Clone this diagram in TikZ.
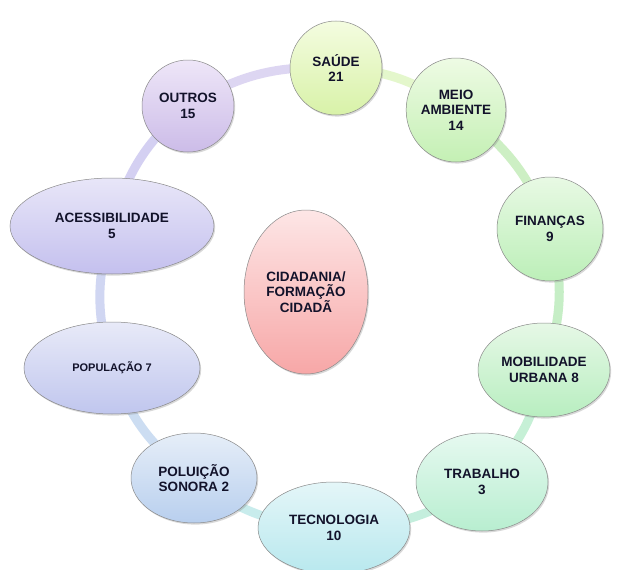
\documentclass[tikz,border=0pt]{standalone}
\usepackage{fontspec}
\setmainfont{Liberation Sans}
\usetikzlibrary{shapes.geometric,shadows}
\pgfdeclarelayer{bgpaper}
\pgfdeclarelayer{background}
\pgfsetlayers{bgpaper,background,main}
\definecolor{txt}{HTML}{12122A}
\definecolor{edgegray}{HTML}{8A8A8A}
\tikzset{
  bub/.style={ellipse, draw=edgegray, line width=0.5pt, inner sep=0pt, align=center,
    font=\bfseries\fontsize{13.5}{15.5}\selectfont, text=txt,
    drop shadow={opacity=0.3, shadow xshift=1.2pt, shadow yshift=-1.6pt}},
  conn/.style={line width=9pt, bend left=17},
}
\begin{document}
\begin{tikzpicture}
\useasboundingbox (0,0) rectangle (622pt,-570pt);
\begin{pgfonlayer}{bgpaper}
\fill[white] (0,0) rectangle (622pt,-570pt);
\end{pgfonlayer}

\node[bub, minimum width=92pt, minimum height=94pt, top color={rgb,255:red,244;green,252;blue,224}, bottom color={rgb,255:red,216;green,242;blue,168}] (sau) at (336pt,-68pt) {SAÚDE\\21};
\node[bub, minimum width=96pt, minimum height=104pt, top color={rgb,255:red,238;green,251;blue,228}, bottom color={rgb,255:red,196;green,240;blue,180}] (mei) at (456pt,-110pt) {MEIO\\AMBIENTE\\14};
\node[bub, minimum width=106pt, minimum height=104pt, top color={rgb,255:red,232;green,249;blue,228}, bottom color={rgb,255:red,188;green,239;blue,184}] (fin) at (550pt,-229pt) {FINANÇAS\\9};
\node[bub, minimum width=132pt, minimum height=94pt, top color={rgb,255:red,230;green,248;blue,230}, bottom color={rgb,255:red,184;green,238;blue,192}] (mob) at (544pt,-370pt) {MOBILIDADE\\URBANA 8};
\node[bub, minimum width=132pt, minimum height=98pt, top color={rgb,255:red,230;green,249;blue,240}, bottom color={rgb,255:red,184;green,238;blue,208}] (tra) at (482pt,-482pt) {TRABALHO\\3};
\node[bub, minimum width=152pt, minimum height=92pt, top color={rgb,255:red,228;green,246;blue,248}, bottom color={rgb,255:red,184;green,232;blue,238}] (tec) at (334pt,-528pt) {TECNOLOGIA\\10};
\node[bub, minimum width=126pt, minimum height=90pt, top color={rgb,255:red,230;green,238;blue,248}, bottom color={rgb,255:red,184;green,207;blue,238}] (pol) at (194pt,-478pt) {POLUIÇÃO\\SONORA 2};
\node[bub, minimum width=176pt, minimum height=92pt, font=\bfseries\fontsize{11}{13}\selectfont, top color={rgb,255:red,232;green,234;blue,248}, bottom color={rgb,255:red,192;green,198;blue,238}] (pop) at (112pt,-368pt) {POPULAÇÃO 7};
\node[bub, minimum width=204pt, minimum height=96pt, top color={rgb,255:red,232;green,230;blue,248}, bottom color={rgb,255:red,196;green,192;blue,238}] (ace) at (112pt,-226pt) {ACESSIBILIDADE\\5};
\node[bub, minimum width=92pt, minimum height=92pt, top color={rgb,255:red,238;green,230;blue,248}, bottom color={rgb,255:red,204;green,188;blue,232}] (out) at (188pt,-106pt) {OUTROS\\15};
\node[bub, minimum width=124pt, minimum height=164pt, top color={rgb,255:red,253;green,230;blue,230}, bottom color={rgb,255:red,247;green,167;blue,167}] (cid) at (306pt,-292pt) {CIDADANIA/\\FORMAÇÃO\\CIDADÃ};

\begin{pgfonlayer}{background}
\draw[conn, color={rgb,255:red,221;green,214;blue,242}] (out.center) to (sau.center);
\draw[conn, color={rgb,255:red,228;green,247;blue,204}] (sau.center) to (mei.center);
\draw[conn, color={rgb,255:red,205;green,239;blue,196}] (mei.center) to (fin.center);
\draw[conn, color={rgb,255:red,198;green,238;blue,198}] (fin.center) to (mob.center);
\draw[conn, color={rgb,255:red,198;green,240;blue,214}] (mob.center) to (tra.center);
\draw[conn, color={rgb,255:red,196;green,238;blue,221}] (tra.center) to (tec.center);
\draw[conn, color={rgb,255:red,200;green,236;blue,236}] (tec.center) to (pol.center);
\draw[conn, color={rgb,255:red,204;green,221;blue,242}] (pol.center) to (pop.center);
\draw[conn, color={rgb,255:red,208;green,214;blue,242}] (pop.center) to (ace.center);
\draw[conn, color={rgb,255:red,212;green,208;blue,242}] (ace.center) to (out.center);
\end{pgfonlayer}
\end{tikzpicture}
\end{document}
